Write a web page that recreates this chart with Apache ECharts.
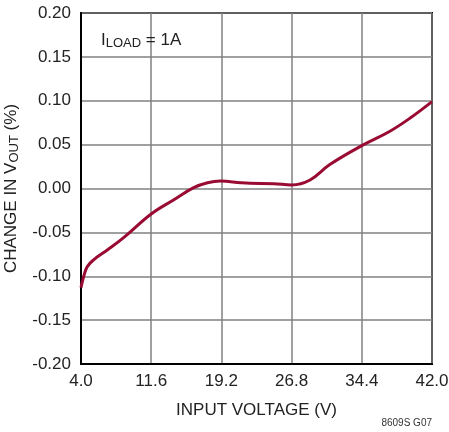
<!DOCTYPE html>
<html><head><meta charset="utf-8">
<script src="https://cdn.jsdelivr.net/npm/echarts@6/dist/echarts.min.js"></script>
<style>html,body{margin:0;padding:0;background:#fff}#c{width:449px;height:432px}</style>
</head><body><div id="c"></div>
<script>
const xTicks = [4.0, 11.6, 19.2, 26.8, 34.4, 42.0];
const yTicks = [-0.20, -0.15, -0.10, -0.05, 0.00, 0.05, 0.10, 0.15, 0.20];
const vin = [4.0, 4.3, 4.68, 5.4, 6.85, 8.65, 11.6, 14.1, 16.2, 17.7, 19.1, 21.3, 22.3, 24.9, 26.8, 28.8, 30.9, 34.4, 37.4, 39.6, 42.0];
const dVout = [-0.113, -0.100, -0.089, -0.081, -0.070, -0.0556, -0.029, -0.0125, 0.001, 0.0066, 0.0085, 0.0066, 0.006, 0.0055, 0.004, 0.0097, 0.027, 0.0488, 0.065, 0.080, 0.099];
const FONT = '"Liberation Sans Narrow", "Liberation Sans", Arial, sans-serif';
const chart = echarts.init(document.getElementById('c'));
chart.setOption({
  animation: false,
  textStyle: {fontFamily: FONT},
  grid: {left: 81, top: 13, right: 17, bottom: 68, containLabel: false, outerBoundsMode: 'none', show: true, borderColor: '#000', borderWidth: 2, backgroundColor: 'transparent'},
  title: {
    text: '{a|I}{b|LOAD}{a| = 1A}',
    left: 96, top: 25,
    textStyle: {fontWeight: 'normal', rich: {
      a: {fontFamily: FONT, fontSize: 17, color: '#222', fontWeight: 'normal'},
      b: {fontFamily: FONT, fontSize: 13, color: '#222', fontWeight: 'normal', padding: [7, 0, 0, 0]}
    }}
  },
  graphic: [{type: 'text', right: 17, bottom: 4, style: {text: '8609S G07', font: '10px ' + FONT, fill: '#333'}}],
  xAxis: {
    type: 'value', min: 4, max: 42,
    name: 'INPUT VOLTAGE (V)', nameLocation: 'middle', nameGap: 38,
    nameTextStyle: {fontFamily: FONT, fontSize: 17, color: '#222'},
    axisLine: {show: true, onZero: false, lineStyle: {color: '#000', width: 2}},
    axisTick: {show: false, customValues: xTicks},
    axisLabel: {customValues: xTicks, fontSize: 17, color: '#222', margin: 9, formatter: v => v.toFixed(1)},
    splitLine: {show: true, lineStyle: {color: '#808080', width: 1.5}}
  },
  yAxis: {
    type: 'value', min: -0.2, max: 0.2, interval: 0.05,
    name: '{a|CHANGE IN V}{b|OUT}{a| (%)}', nameLocation: 'middle', nameGap: 59, nameRotate: 90,
    nameTextStyle: {rich: {
      a: {fontFamily: FONT, fontSize: 17, color: '#222'},
      b: {fontFamily: FONT, fontSize: 13, color: '#222', padding: [7, 0, 0, 0]}
    }},
    axisLine: {show: true, onZero: false, lineStyle: {color: '#000', width: 2}},
    axisTick: {show: false},
    axisLabel: {fontSize: 17, color: '#222', margin: 10, formatter: v => v.toFixed(2)},
    splitLine: {show: true, lineStyle: {color: '#808080', width: 1.5}}
  },
  series: [{
    type: 'line', smooth: 0.4, symbol: 'none',
    data: vin.map((v, i) => [v, dVout[i]]),
    lineStyle: {color: '#9a0b33', width: 3}
  }]
});
</script></body></html>
